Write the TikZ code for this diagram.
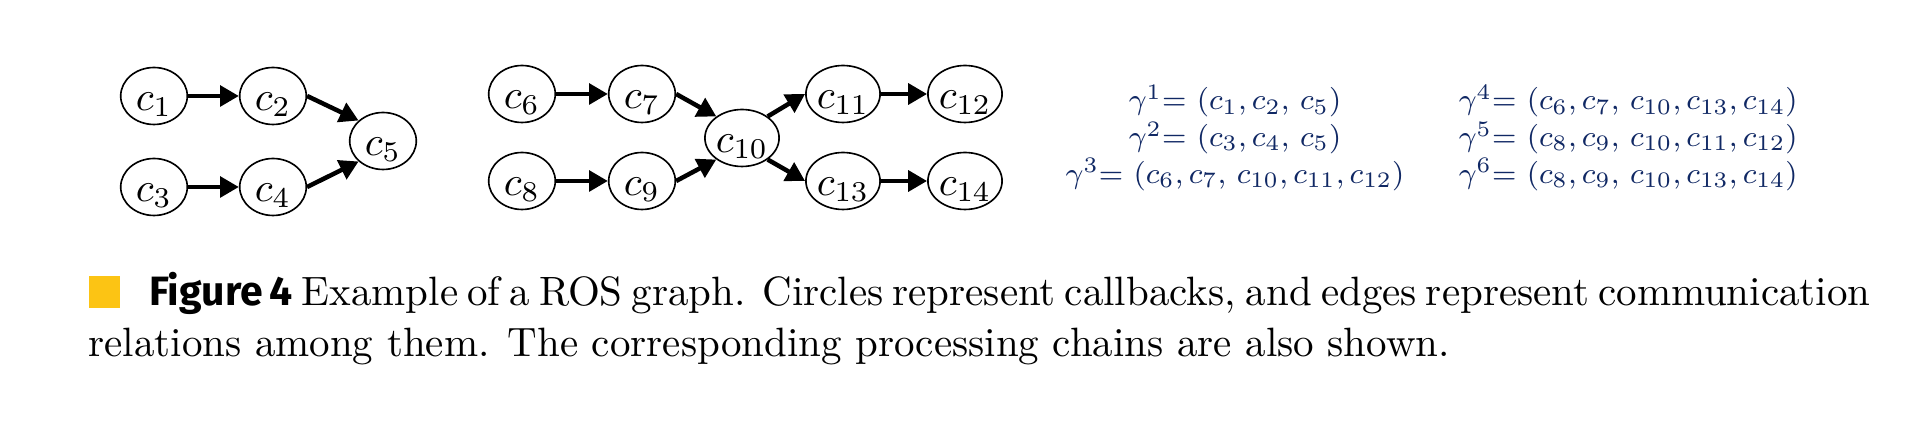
\documentclass[tikz,border=0pt]{standalone}
\usepackage{fontspec}
\newfontfamily\figsans{Fira Sans}
\usetikzlibrary{shapes.geometric,arrows.meta}
\definecolor{chainblue}{RGB}{16,40,100}
\definecolor{lipyellow}{RGB}{252,196,20}
\newcommand{\chaintext}[1]{\scalebox{0.9}{#1}}
\begin{document}
\begin{tikzpicture}[x=0.244pt,y=-0.244pt,
  cb/.style={ellipse, draw, line width=0.4pt, minimum width=16.25pt, minimum height=13.9pt, inner sep=0pt, text height=7.6pt, text depth=0.7pt, font=\fontsize{10}{12}\selectfont},
  link/.style={line width=1.1pt, -{Triangle[length=4.6pt,width=5pt]}},
  chain/.style={text=chainblue, inner sep=0pt, font=\fontsize{8}{10}\selectfont},
  captext/.style={inner sep=0pt, anchor=base west, font=\fontsize{10}{12}\selectfont}]
\useasboundingbox (0,0) rectangle (1917,421);
% graph 1
\node[cb] (c1) at (154,96) {$c_{1}$};
\node[cb] (c2) at (273,96) {$c_{2}$};
\node[cb] (c3) at (154,187) {$c_{3}$};
\node[cb] (c4) at (273,187) {$c_{4}$};
\node[cb] (c5) at (383,141) {$c_{5}$};
% graph 2
\node[cb] (c6) at (522,94) {$c_{6}$};
\node[cb] (c7) at (642,94) {$c_{7}$};
\node[cb] (c8) at (522,181) {$c_{8}$};
\node[cb] (c9) at (642,181) {$c_{9}$};
\node[cb] (c10) at (742,138) {$c_{10}$};
\node[cb] (c11) at (843,94) {$c_{11}$};
\node[cb] (c12) at (965,94) {$c_{12}$};
\node[cb] (c13) at (843,181) {$c_{13}$};
\node[cb] (c14) at (965,181) {$c_{14}$};
% edges
\draw[link] (c1) -- (c2);
\draw[link] (c3) -- (c4);
\draw[link] (c2.east) -- (c5.140);
\draw[link] (c4.east) -- (c5.220);
\draw[link] (c6) -- (c7);
\draw[link] (c8) -- (c9);
\draw[link] (c7.east) -- (c10.140);
\draw[link] (c9.east) -- (c10.220);
\draw[link] (c10.40) -- (c11.west);
\draw[link] (c10.-40) -- (c13.west);
\draw[link] (c11) -- (c12);
\draw[link] (c13) -- (c14);
% chains
\node[chain, anchor=base] (g1) at (1235,110) {\chaintext{$\gamma^{1}$= $(c_{1}, c_{2},\, c_{5})$}};
\node[chain, anchor=base] (g2) at (1235,146.7) {\chaintext{$\gamma^{2}$= $(c_{3}, c_{4},\, c_{5})$}};
\node[chain, anchor=base] (g3) at (1235,183.3) {\chaintext{$\gamma^{3}$= $(c_{6}, c_{7},\, c_{10}, c_{11}, c_{12})$}};
\node[chain, anchor=base west] (g4) at (1458,110) {\chaintext{$\gamma^{4}$= $(c_{6}, c_{7},\, c_{10}, c_{13}, c_{14})$}};
\node[chain, anchor=base west] (g5) at (1458,146.7) {\chaintext{$\gamma^{5}$= $(c_{8}, c_{9},\, c_{10}, c_{11}, c_{12})$}};
\node[chain, anchor=base west] (g6) at (1458,183.3) {\chaintext{$\gamma^{6}$= $(c_{8}, c_{9},\, c_{10}, c_{13}, c_{14})$}};
% caption
\node[captext] (cap1) at (87.7,305.7) {\makebox[426pt][s]{\textcolor{lipyellow}{\rule[-0.5pt]{7.8pt}{7.75pt}}\hspace{7pt}{\figsans\bfseries Figure~4} Example of a ROS graph. Circles represent callbacks, and edges represent communication}};
\node[captext] (cap2) at (87.7,357) {relations among them. The corresponding processing chains are also shown.};
\end{tikzpicture}
\end{document}
